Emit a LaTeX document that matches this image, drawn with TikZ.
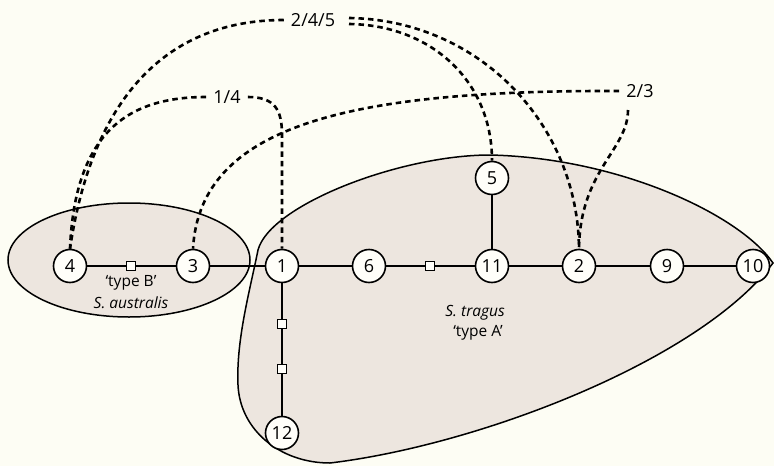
\documentclass[tikz,border=0pt]{standalone}
\usepackage{fontspec}
\setmainfont{Open Sans}
\definecolor{bgc}{HTML}{FDFDF4}
\definecolor{blobc}{HTML}{EDE6DF}
\definecolor{nodec}{HTML}{FFFEF9}
\begin{document}
\begin{tikzpicture}[x=1pt,y=-1pt,
  vtx/.style={circle,draw,line width=1.6pt,fill=nodec,minimum size=33pt,inner sep=0pt,font=\fontsize{18}{18}\selectfont},
  sq/.style={rectangle,draw,line width=1.2pt,fill=nodec,minimum size=8.5pt,inner sep=0pt},
  edge/.style={line width=1.8pt},
  lnk/.style={line width=2.6pt,dash pattern=on 5.5pt off 4pt},
  lbl/.style={font=\fontsize{18}{18}\selectfont,inner sep=7pt},
  txt/.style={font=\fontsize{15.5}{15.5}\selectfont,inner sep=0pt},
  region/.style={draw,line width=1.5pt,fill=blobc}]
\fill[bgc] (0,0) rectangle (774,466);
\useasboundingbox (0,0) rectangle (774,466);
% regions
\draw[region] (129,260) ellipse [x radius=121, y radius=57];
\draw[region] (773,263) .. controls (740,215) and (620,158) .. (490,155)
  .. controls (400,155) and (270,205) .. (258,250)
  .. controls (250,290) and (236,340) .. (238,385)
  .. controls (240,430) and (280,463) .. (330,463)
  .. controls (480,445) and (700,360) .. (773,263) -- cycle;
% vertices
\node[vtx] (n4) at (70,266) {4};
\node[vtx] (n3) at (193,266) {3};
\node[vtx] (n1) at (282,266) {1};
\node[vtx] (n6) at (369,266) {6};
\node[vtx] (n11) at (492,266) {11};
\node[vtx] (n2) at (579,266) {2};
\node[vtx] (n9) at (667,266) {9};
\node[vtx] (n10) at (753,266) {10};
\node[vtx] (n5) at (492,178) {5};
\node[vtx] (n12) at (282,433) {12};
\node[sq] (s1) at (131,266) {};
\node[sq] (s2) at (430,266) {};
\node[sq] (s3) at (282,324) {};
\node[sq] (s4) at (282,369) {};
% edges
\draw[edge] (n4) -- (s1) -- (n3) -- (n1) -- (n6) -- (s2) -- (n11) -- (n2) -- (n9) -- (n10);
\draw[edge] (n11) -- (n5);
\draw[edge] (n1) -- (s3) -- (s4) -- (n12);
% texts
\node[txt] (tB) at (131,283) {‘type B’};
\node[txt] (sa) at (131,303) {\itshape S. australis};
\node[txt,anchor=east] (st) at (505,313) {\itshape S. tragus};
\node[txt,anchor=east] (tA) at (503,333) {‘type A’};
% labels
\node[lbl] (l245) at (313,20) {2/4/5};
\node[lbl] (l14) at (227,97) {1/4};
\node[lbl] (l23) at (640,91) {2/3};
\coordinate (c245a) at (349,18);
\coordinate (c245b) at (349,24);
\coordinate (c23) at (628,110);
\coordinate (k1) at (282,135);
% dashed links
\draw[lnk] (l245.west) .. controls (165,20) and (92,100) .. (n4.north);
\draw[lnk] (c245a) .. controls (480,20) and (578,125) .. (n2.north);
\draw[lnk] (c245b) .. controls (430,25) and (492,80) .. (n5.north);
\draw[lnk] (l14.west) .. controls (130,97) and (75,130) .. (n4.north);
\draw[lnk] (l14.east) .. controls (275,97) and (282,110) .. (k1) -- (n1.north);
\draw[lnk] (l23.west) .. controls (350,90) and (200,125) .. (n3.north);
\draw[lnk] (c23) .. controls (628,150) and (580,170) .. (n2.north);
\end{tikzpicture}
\end{document}
